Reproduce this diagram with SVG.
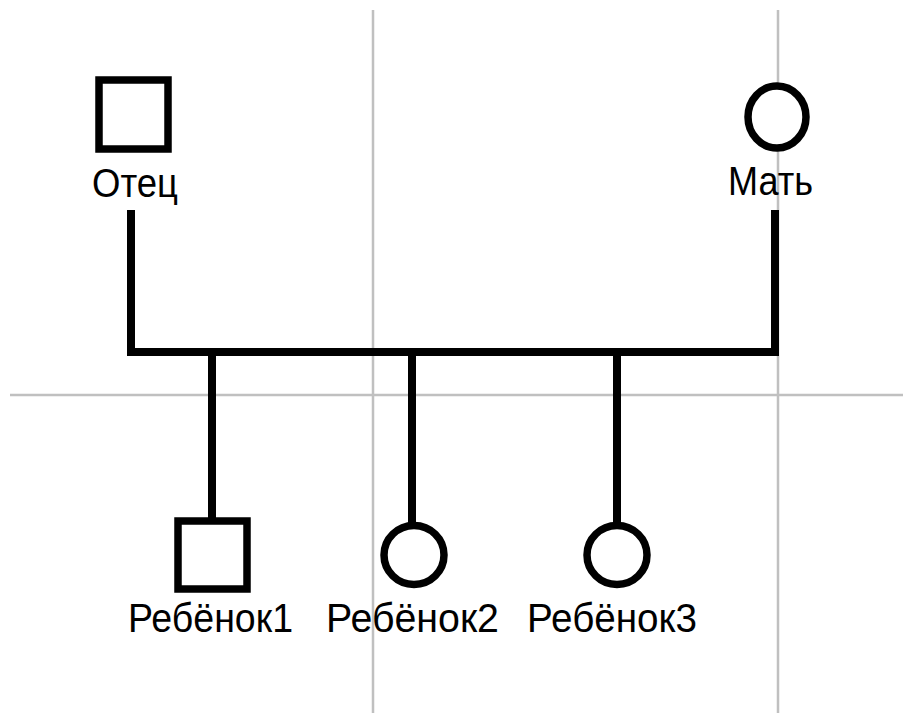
<svg xmlns="http://www.w3.org/2000/svg" width="903" height="713" viewBox="0 0 903 713">
  <style>
    .grid { stroke: #c0c0c0; stroke-width: 2.5; fill: none; }
    .line { stroke: #000; stroke-width: 8; fill: none; stroke-linejoin: miter; stroke-linecap: butt; }
    .shape { stroke: #000; stroke-width: 7.5; fill: #fff; }
    .label { font-family: "Liberation Sans", "DejaVu Sans", sans-serif; font-size: 40px; fill: #000; }
  </style>
  <rect width="903" height="713" fill="#fff"/>
  <g id="grid">
    <line class="grid" x1="373" y1="10" x2="373" y2="713"/>
    <line class="grid" x1="778" y1="10" x2="778" y2="713"/>
    <line class="grid" x1="10" y1="395" x2="903" y2="395"/>
  </g>
  <g id="connectors">
    <path class="line" d="M131 210 V352 H775 V210"/>
    <line class="line" x1="212" y1="352" x2="212" y2="520"/>
    <line class="line" x1="412" y1="352" x2="412" y2="524"/>
    <line class="line" x1="617" y1="352" x2="617" y2="524"/>
  </g>
  <g id="father">
    <rect class="shape" x="99" y="80" width="69" height="69"/>
    <text class="label" x="92" y="197" textLength="86" lengthAdjust="spacingAndGlyphs">Отец</text>
  </g>
  <g id="mother">
    <ellipse class="shape" cx="777" cy="117" rx="29" ry="31"/>
    <text class="label" x="728" y="195" textLength="85" lengthAdjust="spacingAndGlyphs">Мать</text>
  </g>
  <g id="child1">
    <rect class="shape" x="178" y="521" width="69" height="68"/>
    <text class="label" x="128" y="632" textLength="165" lengthAdjust="spacingAndGlyphs">Ребёнок1</text>
  </g>
  <g id="child2">
    <ellipse class="shape" cx="414" cy="555" rx="30" ry="29.5"/>
    <text class="label" x="326" y="632" textLength="173" lengthAdjust="spacingAndGlyphs">Ребёнок2</text>
  </g>
  <g id="child3">
    <ellipse class="shape" cx="617" cy="555" rx="30" ry="29.5"/>
    <text class="label" x="527" y="632" textLength="170" lengthAdjust="spacingAndGlyphs">Ребёнок3</text>
  </g>
</svg>
